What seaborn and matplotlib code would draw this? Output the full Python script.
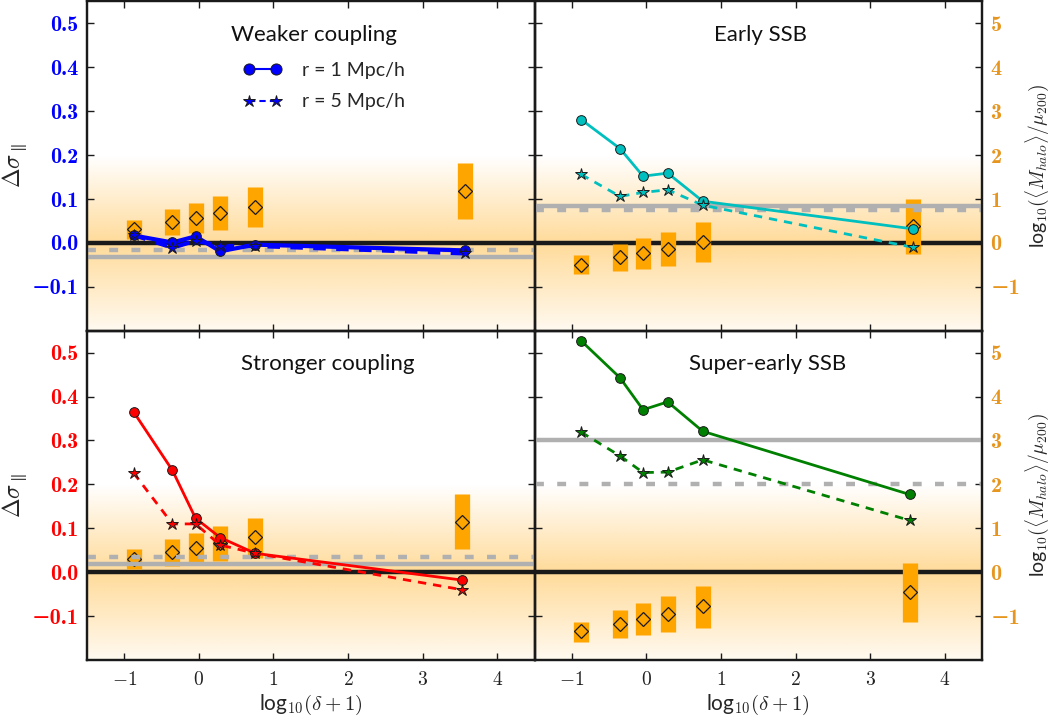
import numpy as np
import pandas as pd
import matplotlib
matplotlib.use("Agg")
import matplotlib.pyplot as plt
from matplotlib.ticker import FuncFormatter, FixedLocator
from matplotlib.lines import Line2D
import seaborn as sns

sns.set_theme(style="white")
plt.rcParams["font.family"] = ["Lato", "DejaVu Sans"]
plt.rcParams["mathtext.fontset"] = "cm"

# ---------------- data ----------------
titles = ["Weaker coupling", "Early SSB", "Stronger coupling", "Super-early SSB"]
colors = ["#0000ff", "#00bfbf", "#ff0000", "#008000"]
label_r1 = "r = 1 Mpc/h"
label_r5 = "r = 5 Mpc/h"

x_top = [-0.875, -0.355, -0.045, 0.285, 0.755, 3.57]
x_bot = [-0.875, -0.355, -0.045, 0.285, 0.755, 3.53]

# Delta sigma_parallel, r = 1 Mpc/h
weak_r1 = [0.017, 0.001, 0.015, -0.019, -0.004, -0.017]
early_r1 = [0.281, 0.215, 0.152, 0.159, 0.095, 0.032]
strong_r1 = [0.365, 0.232, 0.123, 0.079, 0.043, -0.018]
super_r1 = [0.527, 0.443, 0.370, 0.388, 0.321, 0.177]
# r = 5 Mpc/h
weak_r5 = [0.018, -0.011, 0.005, -0.007, -0.007, -0.024]
early_r5 = [0.156, 0.106, 0.115, 0.121, 0.086, -0.010]
strong_r5 = [0.226, 0.110, 0.110, 0.062, 0.043, -0.040]
super_r5 = [0.319, 0.265, 0.227, 0.228, 0.256, 0.118]

# reference levels (solid: r=1, dashed: r=5)
ref_r1 = [-0.033, 0.083, 0.018, 0.300]
ref_r5 = [-0.015, 0.076, 0.035, 0.200]

# log10(<M_halo>/mu_200): mean, low, high
weak_m = [0.32, 0.48, 0.57, 0.68, 0.82, 1.18]
weak_lo = [0.10, 0.17, 0.23, 0.29, 0.37, 0.55]
weak_hi = [0.53, 0.78, 0.92, 1.06, 1.28, 1.81]
early_m = [-0.50, -0.33, -0.24, -0.14, 0.01, 0.39]
early_lo = [-0.71, -0.65, -0.59, -0.53, -0.44, -0.26]
early_hi = [-0.28, -0.03, 0.11, 0.26, 0.47, 1.01]
strong_m = [0.30, 0.46, 0.55, 0.66, 0.80, 1.15]
strong_lo = [0.08, 0.15, 0.20, 0.26, 0.33, 0.52]
strong_hi = [0.53, 0.76, 0.90, 1.05, 1.24, 1.78]
super_m = [-1.35, -1.17, -1.06, -0.95, -0.78, -0.45]
super_lo = [-1.58, -1.49, -1.43, -1.37, -1.26, -1.13]
super_hi = [-1.13, -0.86, -0.70, -0.54, -0.31, 0.21]

x_ticks = [-1, 0, 1, 2, 3, 4]
y_ticks = [-0.1, 0.0, 0.1, 0.2, 0.3, 0.4, 0.5]
m_ticks = [-1, 0, 1, 2, 3, 4, 5]

panels = [
    dict(x=x_top, r1=weak_r1, r5=weak_r5, m=weak_m, lo=weak_lo, hi=weak_hi, lw=3.0, tx=0.507),
    dict(x=x_top, r1=early_r1, r5=early_r5, m=early_m, lo=early_lo, hi=early_hi, lw=2.0, tx=0.506),
    dict(x=x_bot, r1=strong_r1, r5=strong_r5, m=strong_m, lo=strong_lo, hi=strong_hi, lw=2.0, tx=0.538),
    dict(x=x_bot, r1=super_r1, r5=super_r5, m=super_m, lo=super_lo, hi=super_hi, lw=2.0, tx=0.52),
]

ORANGE = "#ffa500"
TICK_ORANGE = "#e6961f"
GREY = "#b0b0b0"
BOLD_TICK_FONT = ["cmb10", "DejaVu Serif"]

fig, axes = plt.subplots(2, 2, figsize=(10.51, 7.2), dpi=100)
fig.subplots_adjust(left=0.0828, right=0.9344, top=0.998, bottom=0.0833,
                    hspace=0, wspace=0)

# gradient profile (in twin-axis units, -2 .. 2)
gy = np.linspace(-2, 2, 400)
alpha = np.where(gy >= 0, 0.40 * (1 - gy / 2.0), 0.40 * (1 - 0.85 * np.abs(gy) / 2.0))
grad = np.zeros((len(gy), 2, 4))
grad[..., 0] = 1.0
grad[..., 1] = 165 / 255
grad[..., 2] = 0.0
grad[..., 3] = alpha[:, None]


def fmt_sigma(v, pos):
    s = "%.1f" % abs(v)
    return ("\u2212" + s) if v < -1e-9 else s


def fmt_mass(v, pos):
    s = "%d" % abs(round(v))
    return ("\u2212" + s) if v < -1e-9 else s


for i, ax in enumerate(axes.flat):
    p = panels[i]
    col = colors[i]
    row, cidx = divmod(i, 2)
    tw = ax.twinx()
    tw.set_zorder(1)
    ax.set_zorder(2)
    ax.patch.set_visible(False)

    tw.imshow(grad, extent=[-1.5, 4.5, -2, 2], origin="lower", aspect="auto",
              interpolation="bilinear", zorder=0)
    tw.axhline(0, color="k", lw=3.2, zorder=1)
    tw.vlines(p["x"], p["lo"], p["hi"], color=ORANGE, lw=11, zorder=2)
    tw.plot(p["x"], p["m"], ls="none", marker="D", ms=7.5, mfc="none",
            mec="k", mew=0.9, zorder=3)
    tw.set_ylim(-2, 5.5)
    tw.set_xlim(-1.5, 4.5)

    ax.axhline(ref_r1[i], color=GREY, lw=3.2, zorder=1)
    ax.axhline(ref_r5[i], color=GREY, lw=3.2, ls=(0, (2, 3)), zorder=1)

    df = pd.DataFrame({"x": p["x"], "r1": p["r1"], "r5": p["r5"]})
    sns.lineplot(data=df, x="x", y="r1", ax=ax, color=col, lw=p["lw"],
                 marker="o", ms=7, mec="k", mew=0.7, zorder=4)
    sns.lineplot(data=df, x="x", y="r5", ax=ax, color=col, lw=p["lw"],
                 linestyle=(0, (3, 2.5)), marker="*", ms=9, mec="k",
                 mew=0.7, zorder=4)
    ax.set_xlabel("")
    ax.set_ylabel("")

    ax.set_xlim(-1.5, 4.5)
    ax.set_ylim(-0.2, 0.55)

    ax.text(p["tx"], 0.898, titles[i], transform=ax.transAxes, ha="center",
            va="center", fontsize=16, color="#111111")

    ax.xaxis.set_major_locator(FixedLocator(x_ticks))
    ax.yaxis.set_major_locator(FixedLocator(y_ticks))
    tw.yaxis.set_major_locator(FixedLocator(m_ticks))
    ax.tick_params(axis="both", which="both", direction="in", length=5,
                   width=1.0, color="k", top=True, bottom=True, left=True,
                   right=False)
    tw.tick_params(axis="y", direction="in", length=5, width=1.0, color="k")
    tw.tick_params(axis="x", which="both", bottom=False, top=False,
                   labelbottom=False)

    if cidx == 0:
        ax.yaxis.set_major_formatter(FuncFormatter(fmt_sigma))
        ax.tick_params(axis="y", labelsize=16, labelcolor=col, pad=6)
        plt.setp(ax.get_yticklabels(), family=BOLD_TICK_FONT)
        ax.set_ylabel(r"$\Delta\sigma_{\parallel}$", fontsize=17, labelpad=2)
        tw.tick_params(axis="y", labelright=False)
    else:
        ax.tick_params(axis="y", labelleft=False)
        tw.yaxis.set_major_formatter(FuncFormatter(fmt_mass))
        tw.tick_params(axis="y", labelsize=16, labelcolor=TICK_ORANGE, pad=6)
        plt.setp(tw.get_yticklabels(), family=BOLD_TICK_FONT)
        tw.set_ylabel(r"log$_{10}(\langle M_{halo}\rangle/\mu_{200})$",
                      fontsize=14, labelpad=2)

    if row == 1:
        ax.xaxis.set_major_formatter(FuncFormatter(lambda v, pos: r"$%d$" % v))
        ax.tick_params(axis="x", labelsize=14, labelcolor="#222222", pad=7)
        ax.set_xlabel(r"log$_{10}(\delta+1)$", fontsize=15, labelpad=4)
    else:
        ax.tick_params(axis="x", labelbottom=False)

    for sp in list(ax.spines.values()) + list(tw.spines.values()):
        sp.set_color("k")
        sp.set_linewidth(1.6)

    if i == 0:
        h1 = Line2D([], [], color=col, lw=1.5, marker="o", ms=8, mec="k", mew=0.7)
        h2 = Line2D([], [], color=col, lw=1.5, ls=(0, (3, 2)), marker="*", ms=9,
                    mec="k", mew=0.7)
        ax.legend([h1, h2], [label_r1, label_r5], loc="upper left",
                  bbox_to_anchor=(0.31, 0.87), frameon=False, numpoints=2,
                  fontsize=14, handlelength=2.0, handletextpad=1.0,
                  labelspacing=0.75)
    else:
        leg = ax.get_legend()
        if leg is not None:
            leg.remove()

fig.savefig("out.png", dpi=100)
